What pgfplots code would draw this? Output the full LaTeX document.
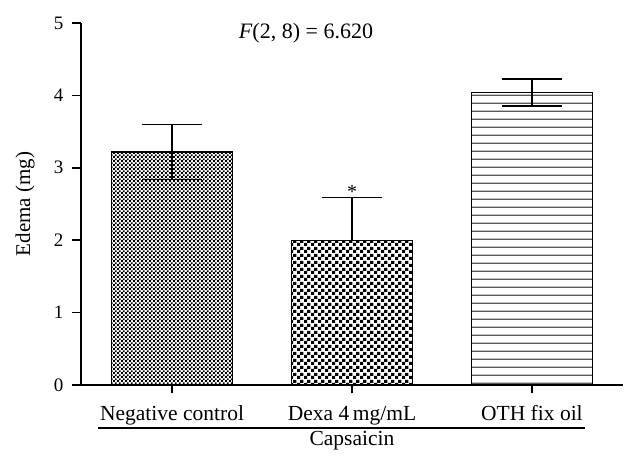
\documentclass[border=0pt]{standalone}
\usepackage{fontspec}
\setmainfont{Liberation Serif}
\usepackage{pgfplots}
\pgfplotsset{compat=1.18}
\usetikzlibrary{patterns}
\pgfdeclarepatternformonly{finechecker}{\pgfpointorigin}{\pgfpoint{4.2pt}{4.2pt}}{\pgfpoint{4.2pt}{4.2pt}}{%
  \pgfpathrectangle{\pgfpointorigin}{\pgfpoint{2.1pt}{2.1pt}}%
  \pgfpathrectangle{\pgfpoint{2.1pt}{2.1pt}}{\pgfpoint{2.1pt}{2.1pt}}%
  \pgfusepath{fill}}
\pgfdeclarepatternformonly{bigchecker}{\pgfpointorigin}{\pgfpoint{6.6pt}{6.6pt}}{\pgfpoint{6.6pt}{6.6pt}}{%
  \pgfpathrectangle{\pgfpointorigin}{\pgfpoint{3.3pt}{3.3pt}}%
  \pgfpathrectangle{\pgfpoint{3.3pt}{3.3pt}}{\pgfpoint{3.3pt}{3.3pt}}%
  \pgfusepath{fill}}
\pgfdeclarepatternformonly{hstripes}{\pgfpointorigin}{\pgfpoint{1pt}{8.2pt}}{\pgfpoint{1pt}{8.2pt}}{%
  \pgfpathrectangle{\pgfpointorigin}{\pgfpoint{1pt}{1.5pt}}%
  \pgfusepath{fill}}
\begin{document}
\begin{tikzpicture}
\begin{axis}[
  set layers,
  scale only axis,
  width=542pt, height=362pt,
  xmin=-0.506, xmax=2.506,
  ymin=0, ymax=5,
  axis x line=bottom, axis y line=left,
  axis line style={-, line width=1.5pt},
  tick style={line width=1.5pt, black},
  tick align=outside,
  major tick length=8.5pt,
  xtick={0,1,2},
  xticklabels={Negative control, Dexa 4\,mg/mL, OTH fix oil},
  ytick={0,1,2,3,4,5},
  /pgf/number format/assume math mode=true,
  yticklabel style={font=\fontsize{19}{22}\selectfont, inner sep=0pt, xshift=-9pt},
  xticklabel style={font=\fontsize{21.5}{24}\selectfont, inner sep=0pt, text height=14pt, text depth=5pt, yshift=-13pt},
  clip=false,
  ybar, bar width=121pt,
  every axis plot/.append style={bar shift=0pt},
]
\addplot[on layer=axis background, draw=black, line width=1.3pt, pattern=finechecker, pattern color=black]
  coordinates {(0,3.22)};
\addplot[on layer=axis background, draw=black, line width=1.3pt, pattern=bigchecker, pattern color=black]
  coordinates {(1,2.00)};
\addplot[on layer=axis background, draw=black, line width=1.3pt, pattern=hstripes, pattern color=black]
  coordinates {(2,4.04)};
% error bars drawn on top of the bars
\addplot[on layer=axis foreground, draw=none, fill=none, forget plot,
  error bars/.cd, y dir=both, y explicit,
  error bar style={line width=1.6pt, black, solid},
  error mark options={rotate=90, mark size=30pt, line width=1.6pt, black, solid}]
  coordinates {(0,3.22) +- (0,0.38) (2,4.04) +- (0,0.19)};
\addplot[on layer=axis foreground, draw=none, fill=none, forget plot,
  error bars/.cd, y dir=plus, y explicit,
  error bar style={line width=1.6pt, black, solid},
  error mark options={rotate=90, mark size=30pt, line width=1.6pt, black, solid}]
  coordinates {(1,2.00) +- (0,0.59)};
\node[anchor=base, font=\fontsize{20}{22}\selectfont, inner sep=0pt] at (axis cs:1,2.58) {*};
\node[anchor=center, font=\fontsize{22}{26}\selectfont] at (axis cs:0.744,4.86) {\textit{F}(2, 8) = 6.620};
\node[anchor=center, rotate=90, font=\fontsize{21}{24}\selectfont, inner sep=0pt] at (axis cs:-0.817,2.5) {Edema (mg)};
\draw[line width=1.3pt] (axis cs:-0.411,-0.594) -- (axis cs:2.294,-0.594);
\node[anchor=base, font=\fontsize{21.5}{24}\selectfont, inner sep=0pt] at (axis cs:1,-0.83) {Capsaicin};
\end{axis}
\path (-81pt,-80pt) rectangle (557pt,385pt);
\end{tikzpicture}
\end{document}
